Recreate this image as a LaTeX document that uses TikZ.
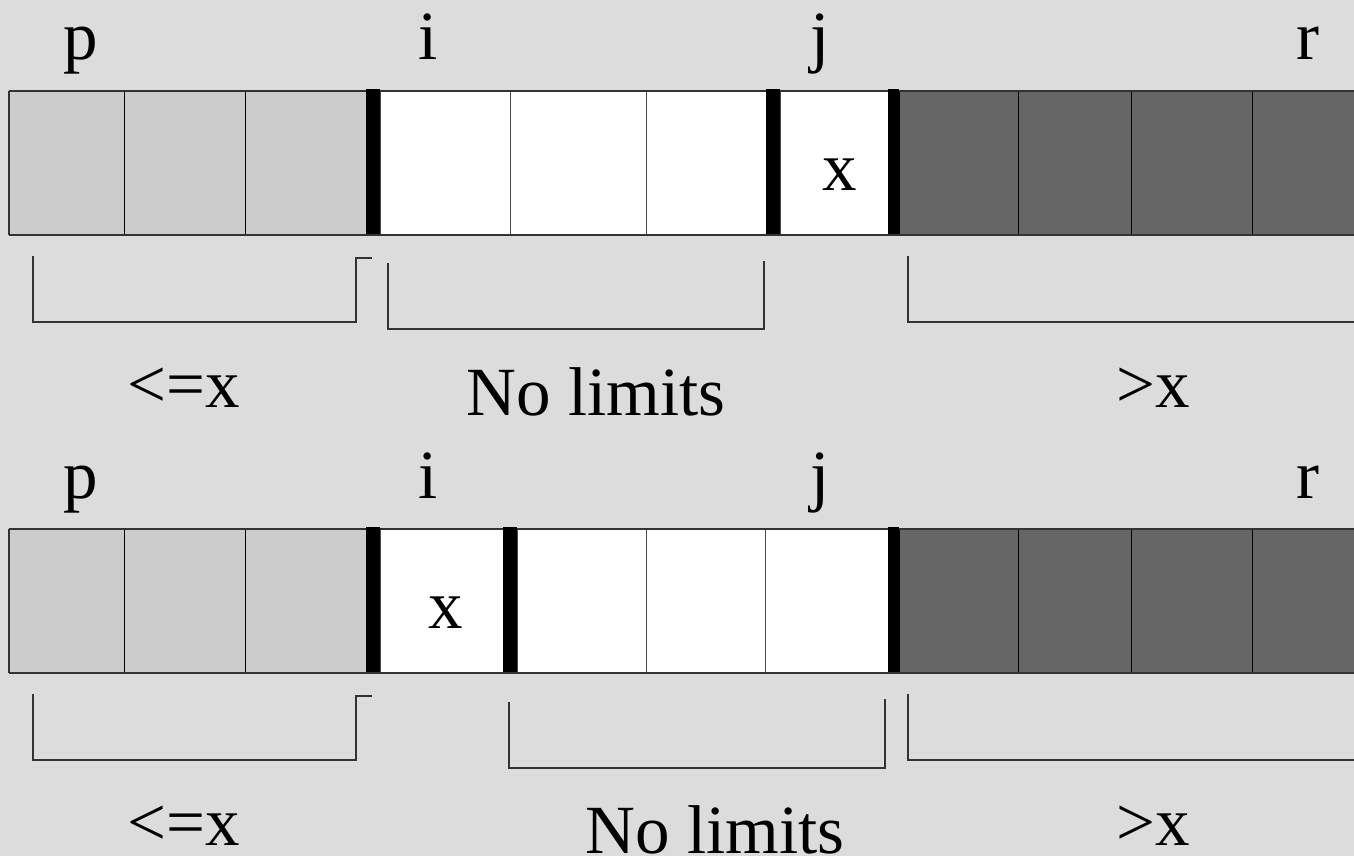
\documentclass[tikz,border=0pt]{standalone}
\usepackage{fontspec}
\setmainfont{Liberation Serif}
\definecolor{bg}{HTML}{DCDCDC}
\definecolor{lightcell}{HTML}{CCCCCC}
\definecolor{darkcell}{HTML}{666666}
\definecolor{edgec}{HTML}{333333}
\begin{document}
\begin{tikzpicture}[x=1pt,y=-1pt,
  lbl/.style={anchor=base, inner sep=0pt, font=\fontsize{69}{80}\selectfont},
  lcell/.style={fill=lightcell, draw=black, line width=0.8pt},
  wcell/.style={fill=white, draw=black!70, line width=0.8pt},
  dcell/.style={fill=darkcell, draw=black, line width=0.8pt},
  bar/.style={fill=black, draw=none},
  outline/.style={draw=edgec, line width=1.6pt},
  brk/.style={draw=edgec, line width=1.3pt}]
\useasboundingbox (0,0) rectangle (1354,856);
\fill[bg] (0,0) rectangle (1354,856);

% ---------- top row ----------
\begin{scope}
  \draw[lcell] (9,91) rectangle (124,235);
  \draw[lcell] (124,91) rectangle (245,235);
  \draw[lcell] (245,91) rectangle (367,235);
  \draw[wcell] (380,91) rectangle (510,235);
  \draw[wcell] (510,91) rectangle (646,235);
  \draw[wcell] (646,91) rectangle (766,235);
  \draw[wcell] (780,91) rectangle (888,235);
  \draw[dcell] (899,91) rectangle (1018,235);
  \draw[dcell] (1018,91) rectangle (1131,235);
  \draw[dcell] (1131,91) rectangle (1252,235);
  \draw[dcell] (1252,91) rectangle (1364,235);
  \draw[outline] (9,91) -- (1360,91) (9,235) -- (1360,235) (9,91) -- (9,235);
  \fill[bar] (366,89) rectangle (380,234);
  \fill[bar] (766,89) rectangle (780,234);
  \fill[bar] (888,89) rectangle (899,234);
  \node[lbl] (xa) at (840,190) {x};
  \node[lbl] (pa) at (81,60) {p};
  \node[lbl] (ia) at (428,60) {i};
  \node[lbl] (ja) at (820,60) {j};
  \node[lbl] (ra) at (1308,60) {r};
  \draw[brk] (33,256) -- (33,322) -- (356,322) -- (356,258) -- (372,258);
  \draw[brk] (388,263) -- (388,329) -- (764,329) -- (764,261);
  \draw[brk] (908,256) -- (908,322) -- (1356,322);
  \node[lbl] (lea) at (184,407) {<=x};
  \node[lbl] (nla) at (596,415) {No limits};
  \node[lbl] (gta) at (1153,407) {>x};
\end{scope}

% ---------- bottom row ----------
\begin{scope}[shift={(0,438)}]
  \draw[lcell] (9,91) rectangle (124,235);
  \draw[lcell] (124,91) rectangle (245,235);
  \draw[lcell] (245,91) rectangle (367,235);
  \draw[wcell] (380,91) rectangle (503,235);
  \draw[wcell] (517,91) rectangle (646,235);
  \draw[wcell] (646,91) rectangle (765,235);
  \draw[wcell] (765,91) rectangle (888,235);
  \draw[dcell] (899,91) rectangle (1018,235);
  \draw[dcell] (1018,91) rectangle (1131,235);
  \draw[dcell] (1131,91) rectangle (1252,235);
  \draw[dcell] (1252,91) rectangle (1364,235);
  \draw[outline] (9,91) -- (1360,91) (9,235) -- (1360,235) (9,91) -- (9,235);
  \fill[bar] (366,89) rectangle (380,234);
  \fill[bar] (503,89) rectangle (517,234);
  \fill[bar] (888,89) rectangle (899,234);
  \node[lbl] (xb) at (446,190) {x};
  \node[lbl] (pb) at (81,60) {p};
  \node[lbl] (ib) at (428,60) {i};
  \node[lbl] (jb) at (820,60) {j};
  \node[lbl] (rb) at (1308,60) {r};
  \draw[brk] (33,256) -- (33,322) -- (356,322) -- (356,258) -- (372,258);
  \draw[brk] (509,264) -- (509,330) -- (885,330) -- (885,261);
  \draw[brk] (908,256) -- (908,322) -- (1356,322);
  \node[lbl] (leb) at (184,407) {<=x};
  \node[lbl] (nlb) at (715,415) {No limits};
  \node[lbl] (gtb) at (1153,407) {>x};
\end{scope}
\end{tikzpicture}
\end{document}
